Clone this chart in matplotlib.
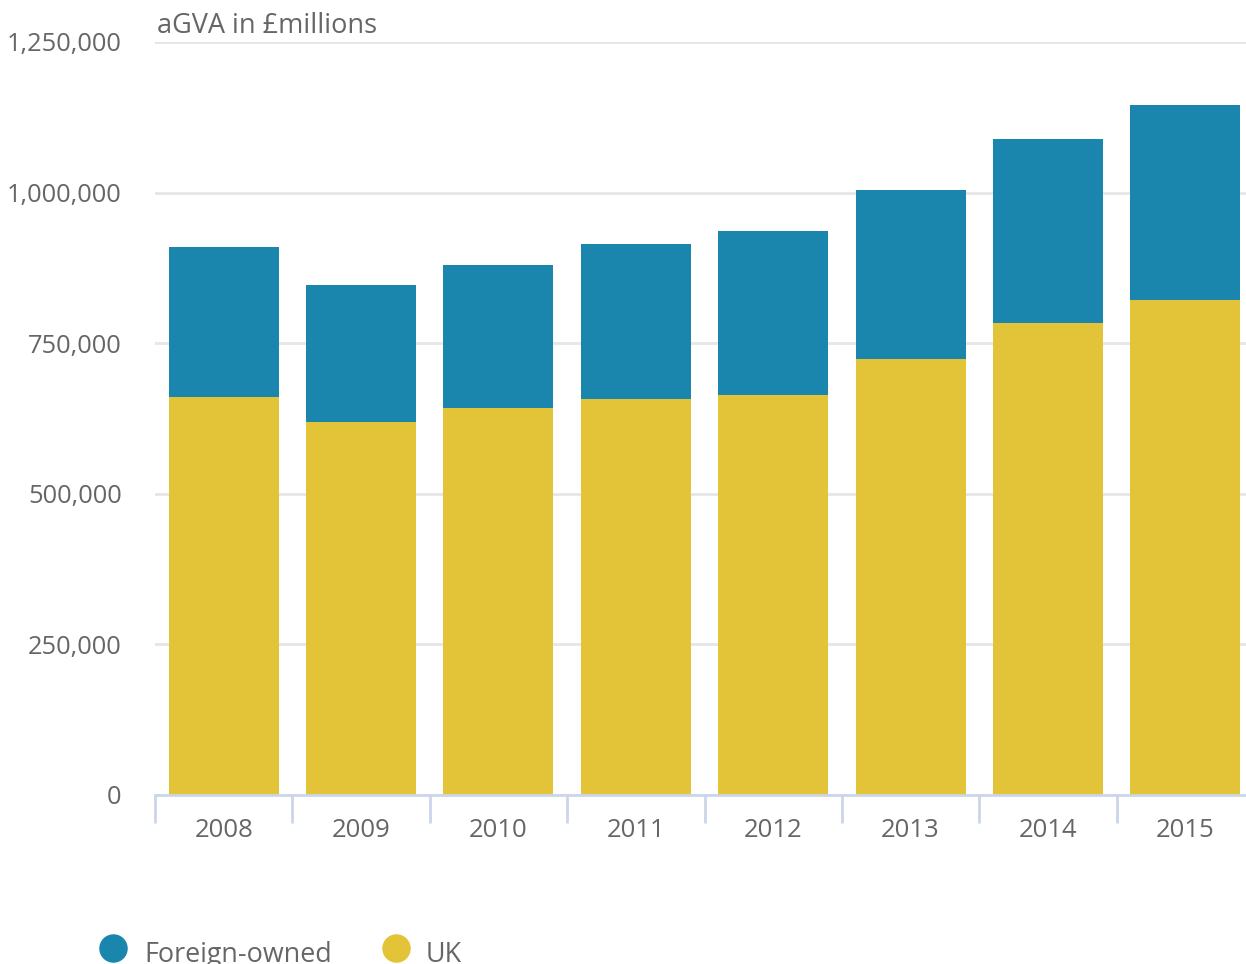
import numpy as np
import matplotlib.pyplot as plt
from matplotlib.lines import Line2D
from matplotlib.ticker import FuncFormatter

plt.rcParams['font.family'] = ['Open Sans', 'DejaVu Sans']

# Data (aGVA, £ millions)
years = ['2008', '2009', '2010', '2011', '2012', '2013', '2014', '2015']
uk = [660000, 619000, 642000, 657000, 664000, 724000, 783000, 821000]
foreign = [250000, 228000, 238000, 258000, 272000, 281000, 306000, 324000]
yticks = [0, 250000, 500000, 750000, 1000000, 1250000]
series = ['Foreign-owned', 'UK']

BLUE = '#1a86ad'
YELLOW = '#e3c338'
GREY = '#666666'
AXIS = '#ccd6eb'
W, H = 1246, 964

fig = plt.figure(figsize=(W / 100, H / 100), dpi=100)
ax = fig.add_axes([155 / W, 1 - 795 / H, 1099 / W, (795 - 42) / H])

x = np.arange(len(years))
ax.bar(x, uk, width=0.8, color=YELLOW, zorder=3)
ax.bar(x, foreign, bottom=uk, width=0.8, color=BLUE, zorder=3)

ax.set_xlim(-0.5, len(years) - 0.5)
ax.set_ylim(0, 1250000)
ax.set_yticks(yticks)
ax.yaxis.set_major_formatter(FuncFormatter(lambda v, p: f'{int(v):,}'))
ax.yaxis.grid(True, color='#e6e6e6', linewidth=2, zorder=0)
ax.tick_params(axis='y', length=0, pad=24, labelsize=18.3, labelcolor=GREY)

# category boundary ticks, labels in the middle
ax.set_xticks(np.arange(-0.5, len(years)))
ax.set_xticklabels([])
ax.set_xticks(x, minor=True)
ax.set_xticklabels(years, minor=True)
ax.tick_params(axis='x', which='major', length=20, width=2, color=AXIS, direction='out')
ax.tick_params(axis='x', which='minor', length=0, pad=16.5, labelsize=18.5, labelcolor=GREY)

for s in ['top', 'right', 'left']:
    ax.spines[s].set_visible(False)
ax.spines['bottom'].set_color(AXIS)
ax.spines['bottom'].set_linewidth(2)
ax.spines['bottom'].set_zorder(4)

fig.text(157 / W, 1 - 33 / H, 'aGVA in £millions', fontsize=19.5, color=GREY,
         ha='left', va='baseline')

# legend along the bottom
for name, col, mx, tx in [(series[0], BLUE, 113, 144), (series[1], YELLOW, 396, 426)]:
    fig.add_artist(Line2D([mx / W], [1 - 948 / H], marker='o', markersize=19.5,
                          color=col, linestyle='', transform=fig.transFigure))
    fig.text(tx / W, 1 - 962 / H, name, fontsize=19.4, color=GREY,
             ha='left', va='baseline')

fig.savefig('out.png', dpi=100)
